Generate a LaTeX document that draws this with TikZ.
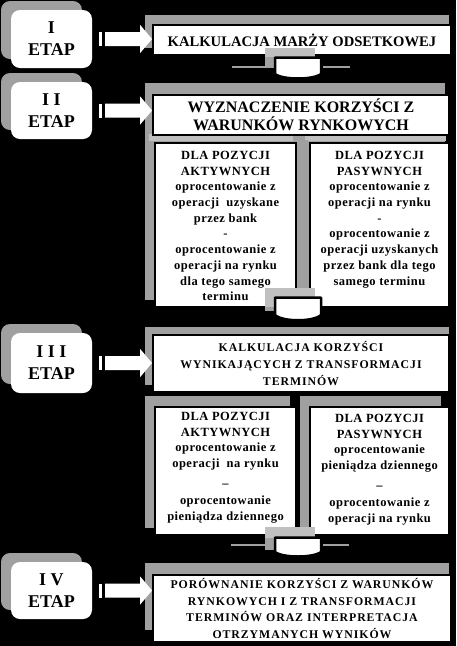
\documentclass[tikz,border=0pt]{standalone}
\usepackage{fontspec}
\setmainfont{Liberation Serif}
\newfontfamily\fsub[LetterSpace=4]{Liberation Serif}
\newfontfamily\fwide[LetterSpace=8]{Liberation Serif}
\usetikzlibrary{calc}
\definecolor{dgray}{RGB}{160,160,160}
\definecolor{lgray}{RGB}{192,192,192}
\newcommand\etaparrow[2]{%
  \fill[white] ($(#1.east)+(7,-7)$) rectangle ($(#1.east)+(10,7)$);
  \fill[white] ($(#1.east)+(13,-7)$) -- ($(#1.east)+(48,-7)$) -- ($(#1.east)+(48,-14)$)
     -- (#2.west |- #1.east) -- ($(#1.east)+(48,14)$) -- ($(#1.east)+(48,7)$)
     -- ($(#1.east)+(13,7)$) -- cycle;}
\begin{document}
\begin{tikzpicture}[x=1pt,y=-1pt,
  etapbox/.style={fill=white, rounded corners=9pt, minimum width=81pt, inner sep=0pt,
    align=center, font=\bfseries\fontsize{18}{22}\selectfont},
  etapshadow/.style={fill=dgray, rounded corners=9pt},
  wbox/.style={fill=white, draw=black, line width=2pt, inner sep=0pt, align=center},
  darkshadow/.style={fill=dgray},
  lightshadow/.style={fill=lgray},
  connector/.style={fill=white, draw=black, line width=2.5pt, line join=round},
  wingline/.style={draw=dgray, line width=1.5pt},
  subtxt/.style={inner sep=0pt, align=center, font=\fsub\bfseries\fontsize{12.5}{15.7}\selectfont},
  bigtxt/.style={font=\fwide\bfseries\fontsize{11.8}{16.7}\selectfont}
]
\fill[black] (0,0) rectangle (456,646);
\useasboundingbox (0,0) rectangle (456,646);

% ETAP boxes
\fill[etapshadow] (1,1) rectangle (82,59);
\fill[etapshadow] (1,73) rectangle (82,130);
\fill[etapshadow] (1,324) rectangle (82,384);
\fill[etapshadow] (1,553) rectangle (82,610);
\node[etapbox, minimum height=58pt] (e1) at (51.5,39) {I\\ETAP};
\node[etapbox, minimum height=57pt] (e2) at (51.5,110.5) {I I\\ETAP};
\node[etapbox, minimum height=60pt] (e3) at (51.5,363) {I I I\\ETAP};
\node[etapbox, minimum height=57pt] (e4) at (51.5,590.5) {I V\\ETAP};

% stage I
\fill[darkshadow] (145,15) rectangle (449,48);
\node[wbox, minimum width=298pt, minimum height=30pt, font=\bfseries\fontsize{14.6}{16}\selectfont]
  (b1) at (302,40) {KALKULACJA MARŻY ODSETKOWEJ};

% stage II
\fill[darkshadow] (145,83) rectangle (445,300);
\fill[lightshadow] (149,134) rectangle (293,141);
\fill[lightshadow] (305,134) rectangle (446,141);
\fill[darkshadow] (300,140) rectangle (308,300);
\node[wbox, minimum width=296pt, minimum height=40pt, font=\bfseries\fontsize{16}{18}\selectfont]
  (b2) at (301,115) {WYZNACZENIE KORZYŚCI Z\\WARUNKÓW RYNKOWYCH};
\node[wbox, minimum width=141pt, minimum height=164pt] (b2l) at (225.5,225) {};
\node[wbox, minimum width=139pt, minimum height=164pt] (b2r) at (379.5,225) {};
\node[subtxt, anchor=north] (t2l) at ([yshift=-9pt]b2l.north)
  {DLA POZYCJI\\AKTYWNYCH\\oprocentowanie z\\operacji~~uzyskane\\przez bank\\-\\oprocentowanie z\\operacji na rynku\\dla tego samego\\terminu};
\node[subtxt, anchor=north] (t2r) at ([yshift=-9pt]b2r.north)
  {DLA POZYCJI\\PASYWNYCH\\oprocentowanie z\\operacji na rynku\\-\\oprocentowanie z\\operacji uzyskanych\\przez bank dla tego\\samego terminu};

% stage III
\fill[darkshadow] (145,327) rectangle (449,385);
\node[wbox, minimum width=296pt, minimum height=57pt, bigtxt]
  (b3) at (301,363.5) {KALKULACJA KORZYŚCI\\WYNIKAJĄCYCH Z TRANSFORMACJI\\TERMINÓW};
\fill[darkshadow] (145,396) rectangle (290,528);
\fill[darkshadow] (300,396) rectangle (441,528);
\node[wbox, minimum width=141pt, minimum height=128pt] (b3l) at (225.5,471) {};
\node[wbox, minimum width=139pt, minimum height=128pt] (b3r) at (379.5,471) {};
\node[subtxt, anchor=north] (t3l) at ([yshift=-6pt]b3l.north)
  {DLA POZYCJI\\AKTYWNYCH\\oprocentowanie z\\operacji~~na rynku\\[4pt]–\\[2pt]oprocentowanie\\pieniądza dziennego};
\node[subtxt, anchor=north] (t3r) at ([yshift=-8pt]b3r.north)
  {DLA POZYCJI\\PASYWNYCH\\oprocentowanie\\pieniądza dziennego\\[4pt]–\\[2pt]oprocentowanie z\\operacji na rynku};

% stage IV
\fill[darkshadow] (145,563) rectangle (449,630);
\node[wbox, minimum width=298pt, minimum height=67pt, bigtxt]
  (b4) at (302,608.5) {PORÓWNANIE KORZYŚCI Z WARUNKÓW\\RYNKOWYCH I Z TRANSFORMACJI\\TERMINÓW ORAZ INTERPRETACJA\\OTRZYMANYCH WYNIKÓW};

% block arrows from stages to boxes
\etaparrow{e1}{b1}
\etaparrow{e2}{b2}
\etaparrow{e3}{b3}
\etaparrow{e4}{b4}

% down connectors
\fill[lightshadow] (265,48) rectangle (315,57);
\fill[darkshadow] (265,57) rectangle (275,68);
\draw[wingline] (232,67) -- (265,67) (323,67) -- (350,67);
\filldraw[connector] (275,57.5) -- (321,57.5) -- (321,74) .. controls (313,80) and (283,80) .. (275,74) -- cycle;

\fill[lightshadow] (265,288) rectangle (315,297);
\fill[lightshadow] (265,297) rectangle (274,307);
\fill[darkshadow] (265,307) rectangle (274,311);
\filldraw[connector] (275,297.5) -- (321,297.5) -- (321,315) .. controls (313,322) and (283,322) .. (275,315) -- cycle;

\fill[lightshadow] (265,527) rectangle (315,538);
\fill[darkshadow] (265,538) rectangle (275,550);
\draw[wingline] (231,545) -- (265,545) (323,545) -- (349,545);
\filldraw[connector] (275,537.5) -- (321,537.5) -- (321,552) .. controls (313,558) and (283,558) .. (275,552) -- cycle;
\end{tikzpicture}
\end{document}
